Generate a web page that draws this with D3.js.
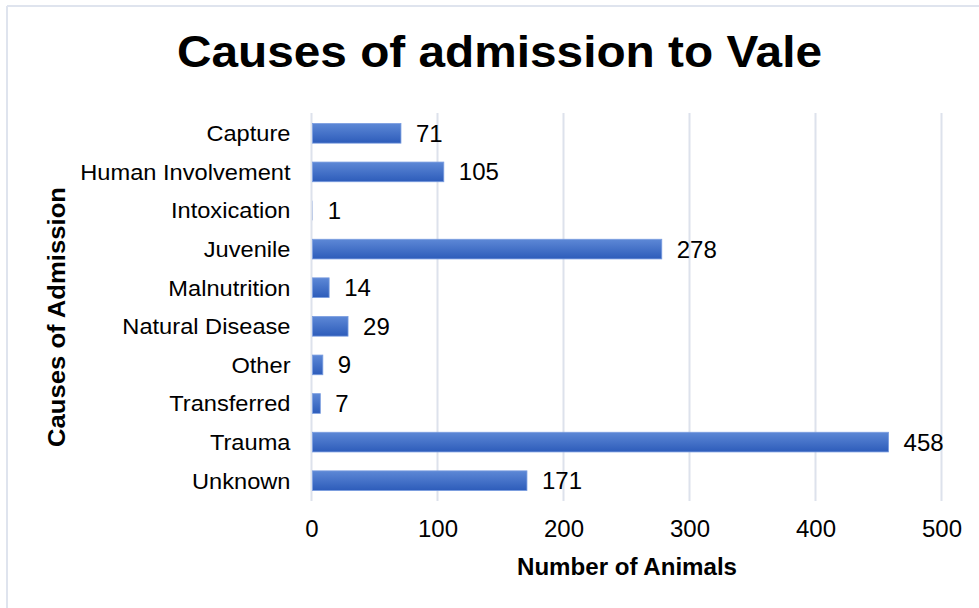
<!DOCTYPE html>
<html>
<head>
<meta charset="utf-8">
<script src="https://cdn.jsdelivr.net/npm/d3@7"></script>
<style>
  html, body { margin: 0; padding: 0; background: #fff; }
  svg { display: block; }
  text { font-family: "Liberation Sans", Arial, sans-serif; fill: #000; }
</style>
</head>
<body>
<svg id="chart" width="979" height="608"></svg>
<script>
const categories = ["Capture", "Human Involvement", "Intoxication", "Juvenile", "Malnutrition",
  "Natural Disease", "Other", "Transferred", "Trauma", "Unknown"];
const values = [71, 105, 1, 278, 14, 29, 9, 7, 458, 171];
const xTicks = [0, 100, 200, 300, 400, 500];
const titleText = "Causes of admission to Vale";
const xTitle = "Number of Animals";
const yTitle = "Causes of Admission";

const svg = d3.select("#chart");
const W = 979, H = 608;

// frame (top and left edges visible)
svg.append("line").attr("x1", 7).attr("x2", W).attr("y1", 6).attr("y2", 6)
  .attr("stroke", "#dfe4ee").attr("stroke-width", 2);
svg.append("line").attr("x1", 7).attr("x2", 7).attr("y1", 6).attr("y2", H)
  .attr("stroke", "#dfe4ee").attr("stroke-width", 2);

const defs = svg.append("defs");
const grad = defs.append("linearGradient").attr("id", "barGrad")
  .attr("x1", 0).attr("y1", 0).attr("x2", 0).attr("y2", 1);
grad.append("stop").attr("offset", "0%").attr("stop-color", "#5d88d6");
grad.append("stop").attr("offset", "100%").attr("stop-color", "#2d5cba");

const x = d3.scaleLinear().domain([0, 500]).range([311.5, 941.5]);
const y = d3.scaleBand().domain(categories).range([114, 500]).paddingInner(0.49).paddingOuter(0.245);

// title
svg.append("text").attr("x", 499.5).attr("y", 67).attr("text-anchor", "middle")
  .attr("font-size", 45).attr("font-weight", "bold")
  .attr("textLength", 645).attr("lengthAdjust", "spacingAndGlyphs")
  .text(titleText);

// gridlines
svg.append("g").selectAll("line").data(xTicks).join("line")
  .attr("x1", d => x(d)).attr("x2", d => x(d))
  .attr("y1", 113).attr("y2", 501)
  .attr("stroke", "#dde2ec").attr("stroke-width", 2);

// bars
svg.append("g").selectAll("rect").data(values).join("rect")
  .attr("x", x(0) + 1)
  .attr("y", (d, i) => y(categories[i]))
  .attr("width", d => Math.max(0, x(d) - x(0) - 1))
  .attr("height", y.bandwidth())
  .attr("fill", "url(#barGrad)")
  .attr("stroke", d => d > 2 ? "#7a9de0" : "none")
  .attr("stroke-width", 0.8);

// value labels
svg.append("g").selectAll("text").data(values).join("text")
  .attr("x", d => x(d) + 15)
  .attr("y", (d, i) => y(categories[i]) + y.bandwidth() / 2 + 8.5)
  .attr("font-size", 24)
  .text(d => d);

// y axis category labels
const yAxis = d3.axisLeft(y).tickSize(0).tickPadding(0);
const gy = svg.append("g").attr("transform", `translate(${x(0) - 21},0)`).call(yAxis);
gy.select(".domain").remove();
gy.selectAll("text").attr("font-size", 22).attr("font-family", "Liberation Sans, Arial, sans-serif")
  .attr("fill", "#000").attr("dy", "0.36em")
  .attr("transform", "scale(1.075,1)");

// x axis tick labels
const xAxis = d3.axisBottom(x).tickValues(xTicks).tickSize(0).tickPadding(0);
const gx = svg.append("g").attr("transform", `translate(0,537)`).call(xAxis);
gx.select(".domain").remove();
gx.selectAll("text").attr("font-size", 24).attr("font-family", "Liberation Sans, Arial, sans-serif")
  .attr("fill", "#000").attr("dy", 0).attr("y", 0);

// axis titles
svg.append("text").attr("x", 627).attr("y", 575).attr("text-anchor", "middle")
  .attr("font-size", 23.5).attr("font-weight", "bold")
  .attr("textLength", 220).attr("lengthAdjust", "spacingAndGlyphs")
  .text(xTitle);

svg.append("text").attr("transform", "translate(65,317) rotate(-90)")
  .attr("text-anchor", "middle")
  .attr("font-size", 23).attr("font-weight", "bold")
  .attr("textLength", 260).attr("lengthAdjust", "spacingAndGlyphs")
  .text(yTitle);
</script>
</body>
</html>
